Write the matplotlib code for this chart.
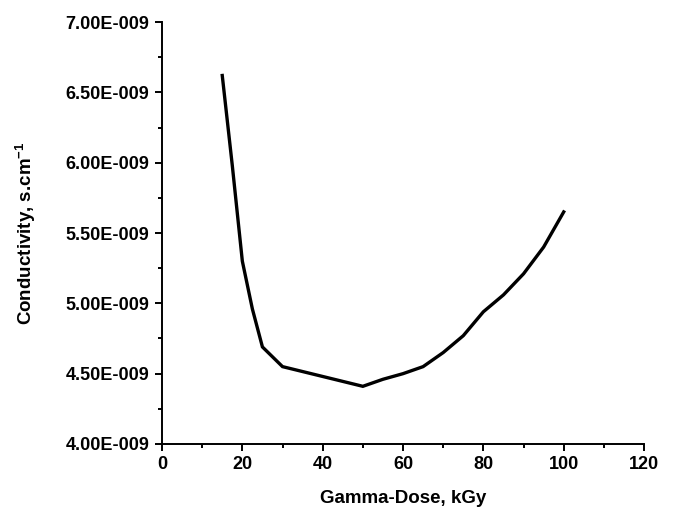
import matplotlib
matplotlib.use("Agg")
import matplotlib.pyplot as plt
from matplotlib.ticker import FuncFormatter

# ข้อมูลที่อ่านจากกราฟ
dose = [15, 17.5, 20, 22.5, 25, 30, 50, 55, 60, 65, 70, 75, 80, 85, 90, 95, 100]
conductivity = [6.62, 5.98, 5.30, 4.96, 4.69, 4.55, 4.41, 4.46, 4.50, 4.55,
                4.65, 4.77, 4.94, 5.06, 5.21, 5.40, 5.65]
conductivity = [c * 1e-9 for c in conductivity]

x_major = [0, 20, 40, 60, 80, 100, 120]
x_minor = [10, 30, 50, 70, 90, 110]
y_major = [4.0e-9, 4.5e-9, 5.0e-9, 5.5e-9, 6.0e-9, 6.5e-9, 7.0e-9]
y_minor = [4.25e-9, 4.75e-9, 5.25e-9, 5.75e-9, 6.25e-9, 6.75e-9]

plt.rcParams["font.family"] = "Liberation Sans"
plt.rcParams["font.weight"] = "bold"
plt.rcParams["mathtext.fontset"] = "custom"
plt.rcParams["mathtext.rm"] = "Liberation Sans:bold"
plt.rcParams["mathtext.bf"] = "Liberation Sans:bold"
plt.rcParams["mathtext.default"] = "bf"


def sci_fmt(v, pos):
    # รูปแบบ 7.00E-009 เหมือนต้นฉบับ
    mant, exp = "{:.2E}".format(v).split("E")
    e = int(exp)
    if e < 0:
        return "{}E-{:03d}".format(mant, -e)
    return "{}E{:03d}".format(mant, e)


fig = plt.figure(figsize=(6.73, 5.15), dpi=100)
ax = fig.add_axes([0.2407, 0.1379, 0.7163, 0.8193])
ax.plot(dose, conductivity, color="black", linewidth=2.4, solid_joinstyle="miter")

ax.set_xlim(0, 120)
ax.set_ylim(4.0e-9, 7.0e-9)
ax.set_xticks(x_major)
ax.set_xticks(x_minor, minor=True)
ax.set_yticks(y_major)
ax.set_yticks(y_minor, minor=True)
ax.yaxis.set_major_formatter(FuncFormatter(sci_fmt))

for side in ["top", "right"]:
    ax.spines[side].set_visible(False)
for side in ["left", "bottom"]:
    ax.spines[side].set_linewidth(1.4)

ax.tick_params(which="major", direction="out", length=5, width=1.4, labelsize=13, pad=4)
ax.tick_params(which="minor", direction="out", length=3, width=1.4)

ax.set_xlabel("Gamma-Dose, kGy", fontsize=13.5, fontweight="bold", labelpad=12)
ax.set_ylabel("Conductivity, s.cm$^{-1}$", fontsize=13.5, fontweight="bold", labelpad=20)

fig.savefig("out.png", dpi=100)
